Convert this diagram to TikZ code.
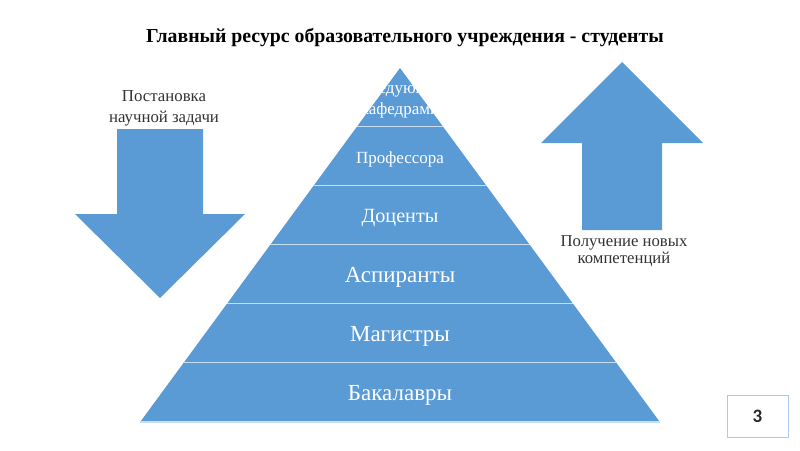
\documentclass[tikz,border=0pt]{standalone}
\usepackage{fontspec}
\setmainfont{Liberation Serif}
\newfontfamily\pagefont{Carlito}
\usetikzlibrary{positioning}
\definecolor{blockblue}{HTML}{5B9BD5}
\definecolor{sepline}{HTML}{C9DDF1}
\definecolor{framebl}{HTML}{A9CBEA}
\definecolor{pagetxt}{HTML}{262626}

\begin{document}
\begin{tikzpicture}[x=1pt,y=-1pt,
  lvltext/.style={text=white,inner sep=0pt},
  sidetext/.style={align=center,text=black!80,inner sep=0pt}]
\useasboundingbox (0,0) rectangle (800,450);
% заголовок
\node[font=\fontsize{19.8}{22}\selectfont\bfseries] (title) at (405,38)
  {Главный ресурс образовательного учреждения - студенты};
% стрелка вниз
\fill[blockblue] (117,129) -- (203,129) -- (203,214) -- (245,214)
  -- (160,298) -- (75,214) -- (117,214) -- cycle;
\node[sidetext,font=\fontsize{16.8}{21}\selectfont] (task) at (164,108)
  {Постановка\\научной задачи};
% стрелка вверх
\fill[blockblue] (622,62) -- (703,143) -- (662,143) -- (662,230)
  -- (582,230) -- (582,143) -- (541,143) -- cycle;
\node[sidetext,font=\fontsize{16.7}{17}\selectfont] (skills) at (624,251)
  {Получение новых\\компетенций};
% пирамида
\foreach \i/\txt/\sz in {0/{}/17, 1/Профессора/17, 2/Доценты/20.2,
  3/Аспиранты/23, 4/Магистры/23, 5/Бакалавры/23}{
  \pgfmathsetmacro\yt{68+59*\i}
  \pgfmathsetmacro\yb{\yt+59}
  \pgfmathsetmacro\wt{0.734*59*\i}
  \pgfmathsetmacro\wb{\wt+0.734*59}
  \fill[blockblue] ({400-\wt},\yt) -- ({400+\wt},\yt)
    -- ({400+\wb},\yb) -- ({400-\wb},\yb) -- cycle;
  \draw[sepline,line width=1.5pt] ({400-\wb},\yb) -- ({400+\wb},\yb);
  \node[lvltext,font=\fontsize{\sz}{\sz}\selectfont] (lvl\i) at (400,{\yt+32}) {\txt};
}
% верхний уровень, обрезан треугольником
\begin{scope}
  \clip (400,68) -- ({400+0.734*59},127) -- ({400-0.734*59},127) -- cycle;
  \node[lvltext,align=center,font=\fontsize{17}{21}\selectfont] (heads) at (400,100)
    {Заведующие\\кафедрами};
\end{scope}
% номер слайда
\node[draw=framebl,line width=0.8pt,minimum width=61pt,minimum height=42pt,
  text=pagetxt,font=\pagefont\fontsize{19}{19}\selectfont\bfseries] (pagenum) at (757.5,416) {3};
\end{tikzpicture}
\end{document}
